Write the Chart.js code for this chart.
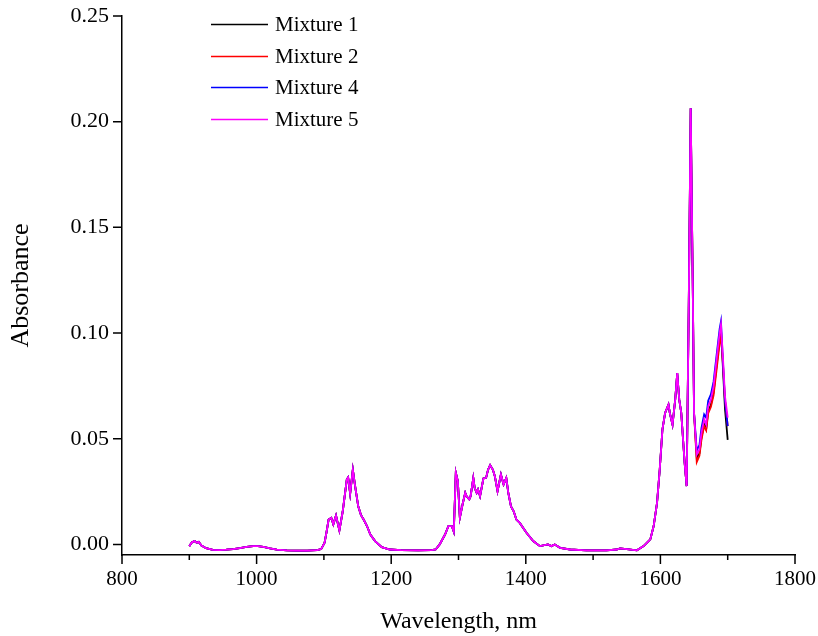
<!DOCTYPE html>
<html>
<head>
<meta charset="utf-8">
<script src="https://cdn.jsdelivr.net/npm/chart.js@4.4.1/dist/chart.umd.min.js"></script>
<style>
  html, body { margin: 0; padding: 0; background: #fff; }
  #wrap { width: 818px; height: 636px; }
</style>
</head>
<body>
<div id="wrap"><canvas id="spectra"></canvas></div>
<script>
// wavelengths (nm) where all four spectra overlap
const commonWavelengths = [
  900, 904, 908, 911, 914, 918, 925, 935, 945, 955, 965, 975, 985, 995, 1002,
  1010, 1020, 1030, 1045, 1060, 1075, 1090, 1096, 1101, 1104, 1107, 1111, 1114,
  1118, 1123, 1128, 1134, 1136, 1139, 1143, 1146, 1151, 1155, 1159, 1164, 1169,
  1176, 1186, 1198, 1215, 1240, 1260, 1266, 1272, 1280, 1285, 1290, 1293, 1296,
  1299, 1302, 1306, 1310, 1312, 1316, 1318, 1322, 1324, 1327, 1329, 1332, 1337,
  1341, 1344, 1347, 1351, 1354, 1358, 1363, 1367, 1371, 1374, 1378, 1382, 1386,
  1391, 1401, 1411, 1421, 1433, 1438, 1443, 1451, 1466, 1490, 1520, 1535, 1540,
  1550, 1565, 1575, 1585, 1590, 1595, 1599, 1603, 1607, 1612, 1614, 1618, 1622,
  1625, 1628, 1631, 1633, 1636, 1639, 1642, 1645, 1648, 1650
];
const commonAbsorbance = [
  -0.0008, 0.0010, 0.0016, 0.0008, 0.0012, -0.0005, -0.0018, -0.0026, -0.0027,
  -0.0025, -0.0022, -0.0017, -0.0012, -0.0008, -0.0008, -0.0012, -0.0019, -0.0025,
  -0.0028, -0.0029, -0.0029, -0.0027, -0.0022, 0.0008, 0.0060, 0.0118, 0.0126,
  0.0095, 0.0137, 0.0066, 0.0157, 0.0307, 0.0317, 0.0240, 0.0354, 0.0284, 0.0180,
  0.0140, 0.0118, 0.0087, 0.0047, 0.0016, -0.0013, -0.0024, -0.0027, -0.0028,
  -0.0027, -0.0024, 0.0000, 0.0047, 0.0087, 0.0087, 0.0060, 0.0339, 0.0299, 0.0126,
  0.0189, 0.0244, 0.0228, 0.0213, 0.0228, 0.0315, 0.0268, 0.0244, 0.0260, 0.0228,
  0.0312, 0.0315, 0.0354, 0.0375, 0.0354, 0.0323, 0.0252, 0.0331, 0.0284, 0.0315,
  0.0244, 0.0180, 0.0157, 0.0118, 0.0102, 0.0055, 0.0016, -0.0008, 0.0000, -0.0008,
  0.0000, -0.0016, -0.0024, -0.0028, -0.0028, -0.0024, -0.0019, -0.0022, -0.0028,
  -0.0008, 0.0024, 0.0087, 0.0197, 0.0354, 0.0543, 0.0622, 0.0662, 0.0622, 0.0567,
  0.0685, 0.0811, 0.0685, 0.0622, 0.0528, 0.0386, 0.0276, 0.1095, 0.2064, 0.1250,
  0.0622
];

// the end of the spectra, where the mixtures separate
const tailWavelengths = [1654, 1658, 1661, 1665, 1668, 1671, 1675, 1679, 1684, 1688, 1690, 1693, 1696, 1700];
const mixture1Tail = [0.0410, 0.0430, 0.0505, 0.0570, 0.0545, 0.0630, 0.0660, 0.0720, 0.0860, 0.0970, 0.1020, 0.0830, 0.0640, 0.0495];
const mixture2Tail = [0.0390, 0.0420, 0.0495, 0.0560, 0.0540, 0.0620, 0.0650, 0.0705, 0.0840, 0.0950, 0.0990, 0.0850, 0.0680, 0.0560];
const mixture4Tail = [0.0445, 0.0470, 0.0550, 0.0615, 0.0600, 0.0680, 0.0710, 0.0770, 0.0910, 0.1020, 0.1055, 0.0860, 0.0680, 0.0560];
const mixture5Tail = [0.0425, 0.0449, 0.0528, 0.0591, 0.0567, 0.0654, 0.0685, 0.0748, 0.0890, 0.1000, 0.1040, 0.0880, 0.0700, 0.0600];

const seriesNames = ['Mixture 1', 'Mixture 2', 'Mixture 4', 'Mixture 5'];
const seriesColors = ['#000000', '#ff0000', '#0000ff', '#ff00ff'];
const seriesTails = [mixture1Tail, mixture2Tail, mixture4Tail, mixture5Tail];

const xTicks = [800, 1000, 1200, 1400, 1600, 1800];
const xMinorTicks = [900, 1100, 1300, 1500, 1700];
const yTicks = [0, 0.05, 0.10, 0.15, 0.20, 0.25];

const serif = "'Liberation Serif', 'DejaVu Serif', serif";

function buildPoints(tail) {
  const xs = commonWavelengths.concat(tailWavelengths);
  const ys = commonAbsorbance.concat(tail);
  return xs.map((x, i) => ({ x: x, y: ys[i] }));
}

// later mixtures are painted on top, so Mixture 5 (magenta) is the one you see
const datasets = seriesNames.map((name, i) => ({
  label: name,
  data: buildPoints(seriesTails[i]),
  borderColor: seriesColors[i],
  backgroundColor: seriesColors[i],
  borderWidth: 1.8,
  pointRadius: 0,
  tension: 0,
  fill: false,
  order: seriesNames.length - i
}));

// outward tick marks, major and minor, plus the legend inside the plot
const axisDecor = {
  id: 'axisDecor',
  afterDraw(chart) {
    const ctx = chart.ctx;
    const xs = chart.scales.x;
    const ys = chart.scales.y;
    ctx.save();
    ctx.strokeStyle = '#000';
    ctx.lineWidth = 1.5;
    ctx.beginPath();
    xTicks.forEach(v => {
      const px = xs.getPixelForValue(v);
      ctx.moveTo(px, xs.top);
      ctx.lineTo(px, xs.top + 9);
    });
    xMinorTicks.forEach(v => {
      const px = xs.getPixelForValue(v);
      ctx.moveTo(px, xs.top);
      ctx.lineTo(px, xs.top + 5);
    });
    yTicks.forEach(v => {
      const py = ys.getPixelForValue(v);
      ctx.moveTo(ys.right, py);
      ctx.lineTo(ys.right - 9, py);
    });
    ctx.stroke();

    // legend
    ctx.font = '21px ' + serif;
    ctx.textBaseline = 'middle';
    ctx.fillStyle = '#000';
    chart.data.datasets.forEach((ds, i) => {
      const y = Math.round(24 + i * 31.5) + 0.5;
      ctx.strokeStyle = ds.borderColor;
      ctx.lineWidth = 1.5;
      ctx.beginPath();
      ctx.moveTo(211, y);
      ctx.lineTo(268, y);
      ctx.stroke();
      ctx.fillText(ds.label, 275, y + 1);
    });
    ctx.restore();
  }
};

new Chart(document.getElementById('spectra'), {
  type: 'line',
  data: { datasets: datasets },
  options: {
    responsive: true,
    maintainAspectRatio: false,
    animation: false,
    events: [],
    layout: { padding: { top: 16, right: 23, left: 0, bottom: 0 } },
    plugins: {
      legend: { display: false },
      tooltip: { enabled: false }
    },
    scales: {
      x: {
        type: 'linear',
        min: 800,
        max: 1800,
        afterBuildTicks: scale => { scale.ticks = xTicks.map(v => ({ value: v })); },
        afterFit: scale => {
          scale.height = 81;
          scale.paddingRight = 0;
          scale.paddingLeft = 0;
        },
        grid: { display: true, drawOnChartArea: false, drawTicks: false },
        border: { display: true, color: '#000', width: 1.5 },
        ticks: {
          color: '#000',
          font: { family: serif, size: 21 },
          padding: 12,
          maxRotation: 0,
          callback: v => String(v)
        },
        title: {
          display: true,
          text: 'Wavelength, nm',
          color: '#000',
          font: { family: serif, size: 24 },
          padding: { top: 0, bottom: 0 }
        }
      },
      y: {
        type: 'linear',
        min: -0.005,
        max: 0.25,
        afterBuildTicks: scale => { scale.ticks = yTicks.map(v => ({ value: v })); },
        afterFit: scale => {
          scale.width = 122;
          scale.paddingTop = 0;
          scale.paddingBottom = 0;
        },
        grid: { display: true, drawOnChartArea: false, drawTicks: false },
        border: { display: true, color: '#000', width: 1.5 },
        ticks: {
          color: '#000',
          font: { family: serif, size: 22 },
          padding: 13,
          callback: v => v.toFixed(2)
        },
        title: {
          display: true,
          text: 'Absorbance',
          color: '#000',
          font: { family: serif, size: 26 },
          padding: { top: 6, bottom: 0 }
        }
      }
    }
  },
  plugins: [axisDecor]
});
</script>
</body>
</html>
